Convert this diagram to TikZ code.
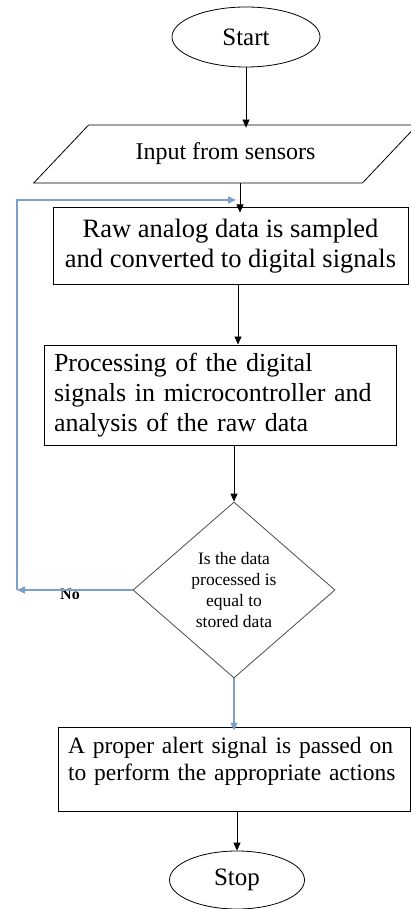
\documentclass[tikz,border=0pt]{standalone}
\usepackage{fontspec}
\setmainfont{Liberation Serif}
\usepackage{xcolor}
\usetikzlibrary{arrows.meta, shapes.geometric}
\definecolor{loopblue}{RGB}{125,160,200}

\begin{document}
\begin{tikzpicture}[x=1pt, y=-1pt,
    term/.style={ellipse,draw,line width=0.8pt,inner sep=0pt,font=\fontsize{25}{28}\selectfont},
    proc/.style={rectangle,draw,line width=1pt,inner sep=0pt},
    Arr/.style={-{Triangle[length=8pt,width=7pt]},line width=0.8pt},
    BArr/.style={Arr,loopblue,line width=1.4pt},
                        ]
    \useasboundingbox (0,0) rectangle (411,909);

    \node[term,minimum width=148pt,minimum height=60pt] (start) at (246,37) {Start};
    \node[trapezium,draw,line width=0.8pt,trapezium left angle=31.4,trapezium right angle=148.6,
          trapezium stretches,minimum width=385pt,minimum height=58pt,inner sep=0pt,
          font=\fontsize{24}{28}\selectfont] (input) at (225.5,154) {Input from sensors};
    \node[proc,minimum width=355pt,minimum height=76pt,align=center,
          font=\fontsize{26.5}{30}\selectfont] (raw) at (230.5,246)
          {Raw analog data is sampled\\and converted to digital signals};
    \node[proc,minimum width=352pt,minimum height=100pt,text width=332pt,align=left,
          font=\fontsize{26}{30}\selectfont] (analyse) at (220,395)
          {Processing of the digital\\signals in microcontroller and\\analysis of the raw data};
    \node[diamond,draw=black!70,line width=0.8pt,minimum width=202pt,minimum height=176pt,
          inner sep=0pt,align=center,font=\fontsize{17.5}{21}\selectfont] (check) at (234,590)
          {Is the data\\processed is\\equal to\\stored data};
    \node[proc,minimum width=352pt,minimum height=84pt,text width=332pt,align=left,
          text depth=48pt,font=\fontsize{23.5}{27}\selectfont] (alert) at (234,769)
          {A proper alert signal is passed on\\to perform the appropriate actions};
    \node[term,minimum width=135pt,minimum height=58pt] (stop) at (237,880) {Stop};
    \node[font=\bfseries\fontsize{16}{18}\selectfont] (no) at (70,594) {No};

    \coordinate (noend) at (17,590);
    \coordinate (loopend) at (236,200);

    \draw[Arr] (start) -- ([yshift=-3pt]start |- input.north);
    \draw[Arr] (input.south -| 240,0) -- ([yshift=-5pt]raw.north -| 240,0);
    \draw[Arr] (raw.south -| 238,0) -- (analyse.north -| 238,0);
    \draw[Arr] (analyse.south -| check.north) -- (check.north);
    \draw[BArr] (check.south) -- ([yshift=-4pt]alert.north -| check.south);
    \draw[Arr] (alert.south -| stop.north) -- (stop.north);
    \draw[BArr] (check.west) -- (check.west -| noend);
    \draw[BArr] (noend) |- (loopend);
\end{tikzpicture}
\end{document}
